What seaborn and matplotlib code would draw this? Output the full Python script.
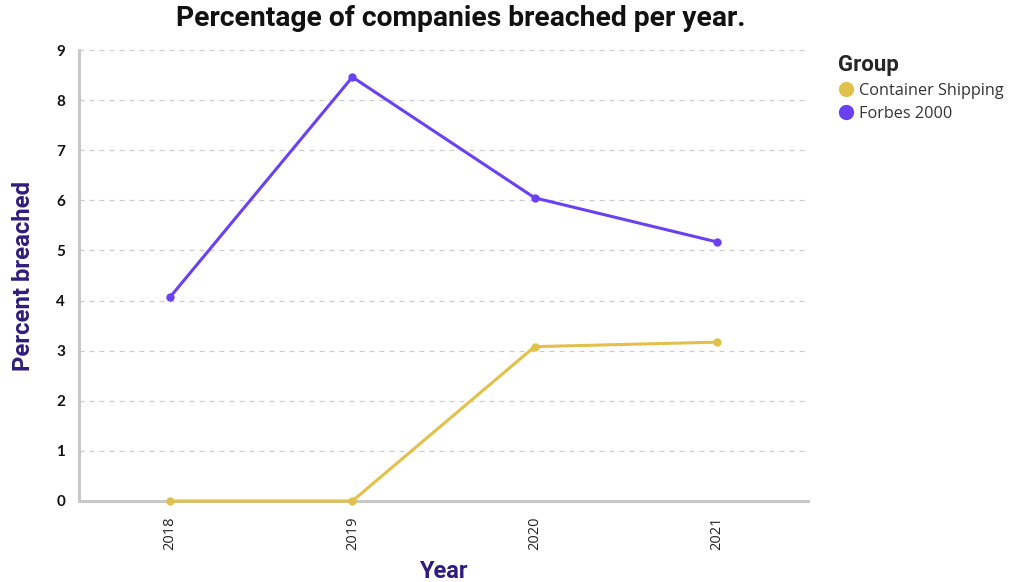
import matplotlib
matplotlib.use("Agg")
import matplotlib.pyplot as plt
import seaborn as sns
import pandas as pd
from matplotlib.lines import Line2D

years = ["2018", "2019", "2020", "2021"]
container_shipping = [0.0, 0.0, 3.08, 3.17]
forbes_2000 = [4.07, 8.46, 6.05, 5.17]
groups = ["Container Shipping", "Forbes 2000"]
palette = {"Container Shipping": "#e1c14a", "Forbes 2000": "#6941f2"}

df = pd.DataFrame({
    "Year": years * 2,
    "Percent breached": container_shipping + forbes_2000,
    "Group": [groups[0]] * len(years) + [groups[1]] * len(years),
})

sns.set_style("white")
plt.rcParams["font.family"] = ["Lato", "DejaVu Sans"]

W, H = 1013, 582
fig = plt.figure(figsize=(W / 100, H / 100), dpi=100)
ax = fig.add_axes([79 / W, 1 - 501 / H, 729 / W, 451 / H])

sns.lineplot(data=df, x="Year", y="Percent breached", hue="Group",
             palette=palette, marker="o", markersize=6, markeredgewidth=0,
             linewidth=2.2, ax=ax, legend=False, zorder=4, clip_on=False)

ax.set_xlim(-0.5, 3.5)
ax.set_ylim(0, 9)
ax.set_yticks(range(0, 10))
ax.yaxis.grid(True, linestyle=(0, (4, 4)), color="#cccccc", linewidth=0.9)
ax.xaxis.grid(False)

for side in ["top", "right"]:
    ax.spines[side].set_visible(False)
for side in ["left", "bottom"]:
    ax.spines[side].set_color("#c8c8c8")
    ax.spines[side].set_linewidth(2.2)

ax.tick_params(axis="y", length=5, width=1, color="#c8c8c8", labelsize=11,
               labelcolor="#111111", pad=5)
ax.tick_params(axis="x", length=5, width=1, color="#c8c8c8", labelsize=10.5,
               labelcolor="#222222", pad=6, labelrotation=90)
for lbl in ax.get_yticklabels():
    lbl.set_fontweight("bold")
for lbl in ax.get_xticklabels():
    lbl.set_fontfamily(["Open Sans", "DejaVu Sans"])

heading_family = ["Roboto", "DejaVu Sans"]
label_font = dict(family=heading_family, fontweight="bold", fontsize=17,
                  color="#2e1d7e")
ax.set_xlabel("Year", labelpad=7, **label_font)
ax.set_ylabel("Percent breached", labelpad=15, **label_font)

title = fig.text(461 / W, 1 - 19 / H, "Percentage of companies breached per year.",
                 ha="center", va="center", fontsize=21, fontweight="bold",
                 family=heading_family, color="#111111")

# Shrink the heading text so it spans the same width as the plot title band
renderer = fig.canvas.get_renderer()
bb = title.get_window_extent(renderer)
title.set_fontsize(21 * 572 / bb.width)
ylab = ax.yaxis.label
bb = ylab.get_window_extent(renderer)
ylab.set_fontsize(17 * 190 / bb.height)

handles = [Line2D([0], [0], marker="o", linestyle="none", markersize=11,
                  markerfacecolor=palette[g], markeredgewidth=0) for g in groups]
leg = fig.legend(handles, groups, title="Group", loc="upper left",
                 bbox_to_anchor=(831 / W, 1 - 47 / H), frameon=False,
                 fontsize=11.7, handletextpad=0.3, labelspacing=0.45,
                 borderaxespad=0, handlelength=1.0)
leg.get_title().set_fontproperties(
    matplotlib.font_manager.FontProperties(family=heading_family,
                                           weight="bold", size=16))
leg._legend_box.align = "left"
for t in leg.get_texts():
    t.set_color("#333333")
    t.set_fontfamily(["Open Sans", "DejaVu Sans"])

fig.savefig("out.png", dpi=100)
